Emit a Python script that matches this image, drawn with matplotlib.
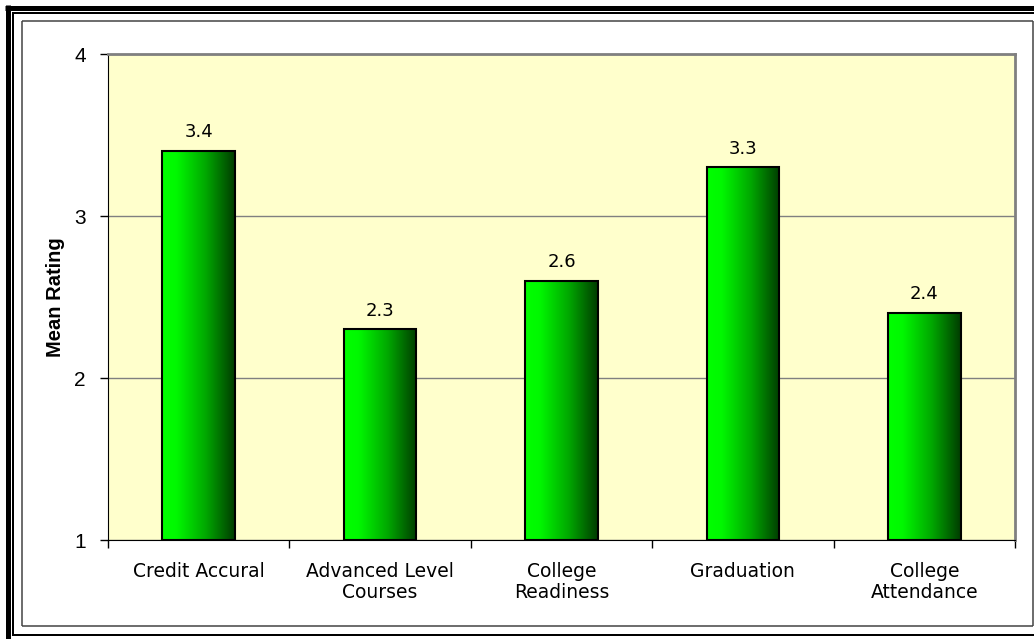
import numpy as np
import matplotlib
matplotlib.use('Agg')
import matplotlib.pyplot as plt
from matplotlib.lines import Line2D
from matplotlib.colors import LinearSegmentedColormap

categories = ['Credit Accural', 'Advanced Level\nCourses', 'College\nReadiness',
              'Graduation', 'College\nAttendance']
values = [3.4, 2.3, 2.6, 3.3, 2.4]
value_labels = ['3.4', '2.3', '2.6', '3.3', '2.4']
yticks = [1, 2, 3, 4]
y_base = 1

W, H = 1034, 639
fig = plt.figure(figsize=(W / 100, H / 100), dpi=100)
fig.patch.set_facecolor('white')


def px_line(x0, y0, x1, y1, lw, color):
    # pixel coords (origin top-left) -> figure fraction
    fig.add_artist(Line2D([x0 / W, x1 / W], [1 - y0 / H, 1 - y1 / H],
                          transform=fig.transFigure, lw=lw * 0.72,
                          color=color, solid_capstyle='butt'))


# outer frame: thick black, thin black, inner gray box
px_line(7.5, 5, 7.5, 639, 5, 'black')
px_line(5, 7.5, 1034, 7.5, 5, 'black')
px_line(13, 12, 13, 635, 2, 'black')
px_line(12, 13, 1034, 13, 2, 'black')
px_line(12, 634.5, 1034, 634.5, 2, 'black')
px_line(22, 21, 22, 626, 1.5, '#404040')
px_line(22, 21, 1033, 21, 1.5, '#404040')
px_line(22, 625.5, 1033, 625.5, 1.5, '#404040')
px_line(1032.5, 21, 1032.5, 626, 1.5, '#404040')

ax = fig.add_axes([108 / W, 1 - 540 / H, (1015 - 108) / W, (540 - 54) / H])
ax.set_facecolor('#FFFFCC')

x = np.arange(len(categories))
heights = np.array(values) - y_base
bars = ax.bar(x, heights, bottom=y_base, width=0.4, facecolor='none',
              edgecolor='black', linewidth=1.5, zorder=3)

cmap = LinearSegmentedColormap.from_list(
    'grn', [(0.0, '#00FF00'), (0.2, '#00F800'), (0.6, '#00A800'), (1.0, '#003C00')])
grad = np.linspace(0, 1, 256).reshape(1, -1)
for b in bars:
    im = ax.imshow(grad, cmap=cmap, aspect='auto', zorder=2,
                   extent=[b.get_x(), b.get_x() + b.get_width(),
                           b.get_y(), b.get_y() + b.get_height()])

for xi, v, lab in zip(x, values, value_labels):
    ax.text(xi, v + 0.06, lab, ha='center', va='bottom', fontsize=13,
            family='DejaVu Sans', color='black')

ax.set_xlim(-0.5, len(categories) - 0.5)
ax.set_ylim(1, 4)
ax.set_yticks(yticks)
ax.set_yticklabels([str(t) for t in yticks], family='Liberation Sans', fontsize=15)
ax.yaxis.grid(True, color='#808080', linewidth=1, zorder=1)
ax.set_axisbelow(True)

ax.set_xticks(x)
ax.set_xticklabels(categories, fontsize=13.5, family='DejaVu Sans', linespacing=1.15)
ax.set_xticks(np.arange(len(categories) + 1) - 0.5, minor=True)
ax.tick_params(axis='x', which='major', length=0, pad=16)
ax.tick_params(axis='x', which='minor', length=6, width=1, direction='out')
ax.tick_params(axis='y', length=6, width=1, direction='out', pad=10)

ax.set_ylabel('Mean Rating', fontsize=14.5, fontweight='bold', family='Liberation Sans')
ax.yaxis.set_label_coords(-0.047, 0.5)

ax.spines['left'].set_color('black')
ax.spines['bottom'].set_color('black')
ax.spines['top'].set_color('#808080')
ax.spines['right'].set_color('#808080')
ax.spines['top'].set_linewidth(2)
ax.spines['right'].set_linewidth(2)

fig.savefig('out.png', dpi=100)
